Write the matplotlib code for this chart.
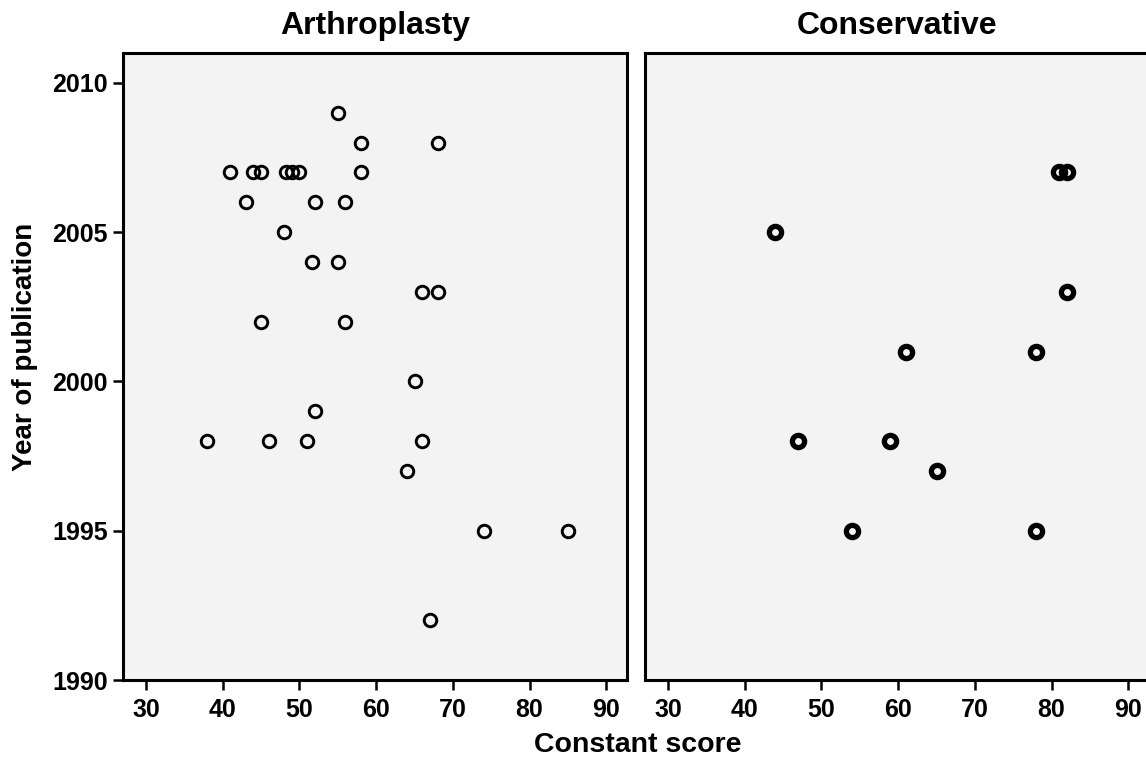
import matplotlib
matplotlib.use("Agg")
import matplotlib.pyplot as plt

plt.rcParams['font.family'] = ['Liberation Sans', 'DejaVu Sans']
plt.rcParams['font.weight'] = 'bold'

# Arthroplasty panel data
arth_score = [55, 58, 68, 41, 44, 45, 48.3, 49, 50, 58, 43, 52, 56, 48,
              51.6, 55, 66, 68, 45, 56, 65, 52, 38, 46, 51, 66, 64, 74, 85, 67]
arth_year = [2009, 2008, 2008, 2007, 2007, 2007, 2007, 2007, 2007, 2007,
             2006, 2006, 2006, 2005, 2004, 2004, 2003, 2003, 2002, 2002,
             2000, 1999, 1998, 1998, 1998, 1998, 1997, 1995, 1995, 1992]

# Conservative panel data
cons_score = [81, 82, 44, 82, 61, 78, 47, 59, 65, 54, 78]
cons_year = [2007, 2007, 2005, 2003, 2001, 2001, 1998, 1998, 1997, 1995, 1995]

titles = ["Arthroplasty", "Conservative"]
x_ticks = [30, 40, 50, 60, 70, 80, 90]
y_ticks = [1990, 1995, 2000, 2005, 2010]

W, H = 1146, 759
fig = plt.figure(figsize=(W / 100, H / 100), dpi=100)

def frac(x0, y0, x1, y1):
    return [x0 / W, 1 - y1 / H, (x1 - x0) / W, (y1 - y0) / H]

ax1 = fig.add_axes(frac(123, 53, 627, 680))
ax2 = fig.add_axes(frac(645, 53, 1149, 680))

bg = '#f3f3f3'
for ax, xs, ys, title, lw, ms in [
        (ax1, arth_score, arth_year, titles[0], 2.1, 9.0),
        (ax2, cons_score, cons_year, titles[1], 3.8, 8.8)]:
    ax.set_facecolor(bg)
    ax.plot(xs, ys, linestyle='none', marker='o', markersize=ms,
            markerfacecolor='none', markeredgecolor='black',
            markeredgewidth=lw, clip_on=False)
    ax.set_xlim(27.0, 92.7)
    ax.set_ylim(1990, 2011)
    ax.set_xticks(x_ticks)
    ax.set_xticklabels([str(t) for t in x_ticks], fontsize=18, fontweight='bold')
    ax.tick_params(axis='x', direction='out', length=7, width=1.8, pad=6)
    ax.set_title(title, fontsize=23, fontweight='bold', pad=14)
    for s in ax.spines.values():
        s.set_linewidth(2.2)

ax1.set_yticks(y_ticks)
ax1.set_yticklabels([str(t) for t in y_ticks], fontsize=18, fontweight='bold')
ax1.tick_params(axis='y', direction='out', length=7, width=1.8, pad=4)
ax2.set_yticks([])

fig.text(638 / W, 1 - 745 / H, "Constant score", fontsize=20.5,
         fontweight='bold', ha='center', va='center')
fig.text(25 / W, 1 - 347 / H, "Year of publication", fontsize=20,
         fontweight='bold', ha='center', va='center', rotation=90)

fig.savefig("out.png", dpi=100, facecolor='white')
